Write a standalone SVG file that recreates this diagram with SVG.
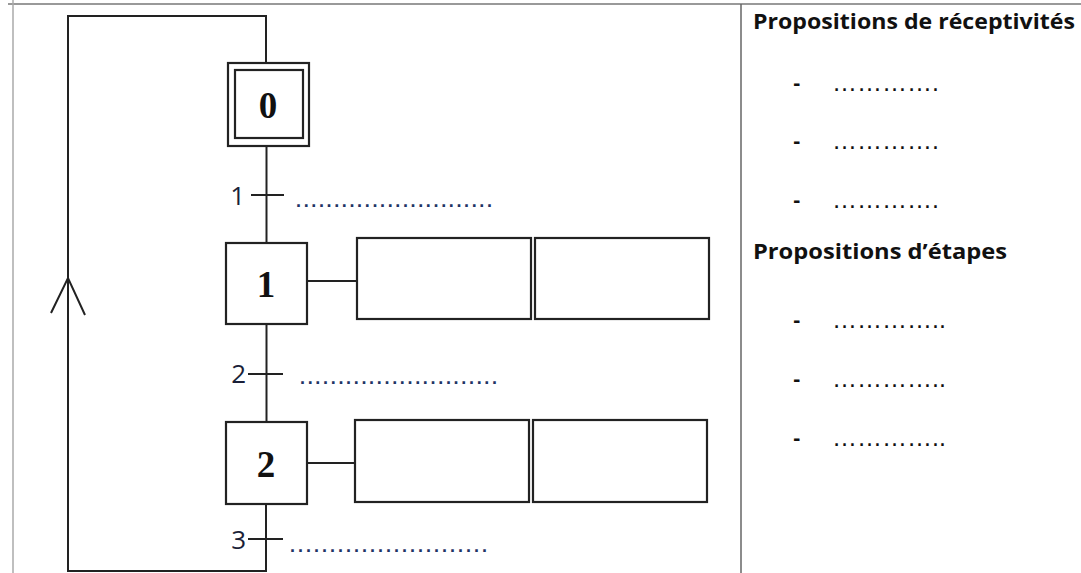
<svg xmlns="http://www.w3.org/2000/svg" width="1081" height="573" viewBox="0 0 1081 573">
<style>
.ln{stroke:#222;stroke-width:2;fill:none}
.box{stroke:#222;stroke-width:2.2;fill:#fff}
.stepnum{font-family:"Liberation Serif","Times New Roman",serif;font-weight:bold;font-size:37px;fill:#111;text-anchor:middle}
.trn{font-family:"Open Sans","Liberation Sans",Arial,sans-serif;font-size:26px;fill:#1a1f38;text-anchor:end}
.dots{font-family:"Liberation Sans",Arial,sans-serif;font-size:18px;font-weight:bold;fill:#1f3566}
.title{font-family:"Open Sans","Liberation Sans",sans-serif;font-weight:bold;font-size:22px;fill:#111}
.item{font-family:"Liberation Sans",Arial,sans-serif;font-size:25px;fill:#111}
.dash{font-family:"DejaVu Sans","Liberation Sans",sans-serif;font-weight:bold;font-size:18px;fill:#111}
</style>
<rect x="0" y="0" width="1081" height="573" fill="#fff"/>
<g id="frame">
<line x1="8" y1="4" x2="1081" y2="4" stroke="#777" stroke-width="1.5"/>
<line x1="13" y1="0" x2="13" y2="573" stroke="#aaa" stroke-width="1.5"/>
<line x1="741" y1="4" x2="741" y2="573" stroke="#666" stroke-width="1.5"/>
</g>
<g id="connectors">
<polyline class="ln" points="266,63 266,16 68,16 68,571 266,571 266,504"/>
<polyline class="ln" points="51,313 68,278 85,315"/>
<line class="ln" x1="266.5" y1="146" x2="266.5" y2="243"/>
<line class="ln" x1="266.5" y1="324" x2="266.5" y2="422"/>
<line class="ln" x1="307" y1="281" x2="357" y2="281"/>
<line class="ln" x1="307" y1="463" x2="355" y2="463"/>
</g>
<g id="t1"><line class="ln" x1="251" y1="195" x2="284" y2="195"/><text class="trn" x="245" y="205">1</text><text class="dots" x="296" y="207" textLength="196" lengthAdjust="spacing">..........................</text></g>
<g id="t2"><line class="ln" x1="248" y1="374" x2="283" y2="374"/><text class="trn" x="246" y="383">2</text><text class="dots" x="300" y="384" textLength="197" lengthAdjust="spacing">..........................</text></g>
<g id="t3"><line class="ln" x1="248" y1="539" x2="283" y2="539"/><text class="trn" x="246" y="549">3</text><text class="dots" x="290" y="552" textLength="197" lengthAdjust="spacing">.........................</text></g>
<g id="step0"><rect class="box" x="228" y="63" width="81" height="83"/><rect class="box" x="235" y="70" width="68" height="68"/><text class="stepnum" x="268" y="118">0</text></g>
<g id="step1"><rect class="box" x="226" y="243" width="81" height="81"/><text class="stepnum" x="266" y="297">1</text></g>
<g id="step2"><rect class="box" x="226" y="422" width="81" height="82"/><text class="stepnum" x="266" y="477">2</text></g>
<g id="action1a"><rect class="box" x="357" y="238" width="174" height="81"/></g>
<g id="action1b"><rect class="box" x="535" y="238" width="174" height="81"/></g>
<g id="action2a"><rect class="box" x="355" y="420" width="174" height="82"/></g>
<g id="action2b"><rect class="box" x="533" y="420" width="174" height="82"/></g>
<g id="panel">
<text class="title" x="753" y="29" textLength="322" lengthAdjust="spacingAndGlyphs">Propositions de réceptivités</text>
<text class="dash" x="793" y="90">-</text><text class="item" x="832" y="91">………….</text>
<text class="dash" x="793" y="148">-</text><text class="item" x="832" y="149">………….</text>
<text class="dash" x="793" y="207">-</text><text class="item" x="832" y="208">………….</text>
<text class="title" x="753" y="259" textLength="254" lengthAdjust="spacingAndGlyphs">Propositions d’étapes</text>
<text class="dash" x="793" y="327">-</text><text class="item" x="832" y="328">…………..</text>
<text class="dash" x="793" y="386">-</text><text class="item" x="832" y="387">…………..</text>
<text class="dash" x="793" y="445">-</text><text class="item" x="832" y="446">…………..</text>
</g>
</svg>
